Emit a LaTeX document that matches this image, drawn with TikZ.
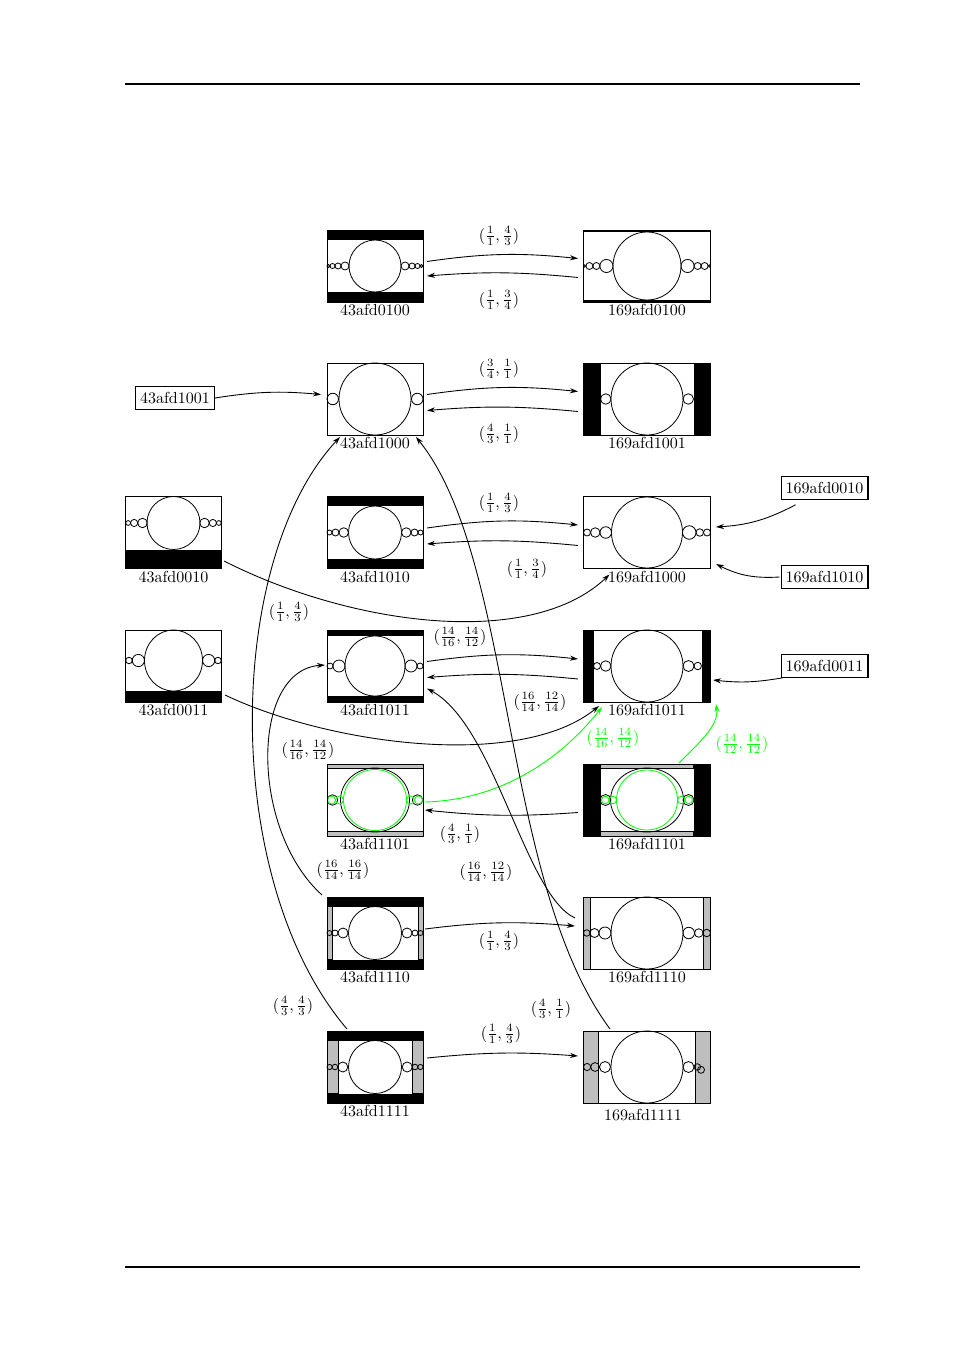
\documentclass[tikz,border=0pt]{standalone}
\usetikzlibrary{arrows.meta,calc}
\definecolor{grn}{RGB}{0,255,0}
\definecolor{bargray}{RGB}{190,190,190}
\tikzset{
 fr43/.style={draw, line width=0.6pt, minimum width=59.9pt, minimum height=44.93pt, inner sep=0pt},
 fr169/.style={draw, line width=0.6pt, minimum width=79.25pt, minimum height=44.93pt, inner sep=0pt},
 nm/.style={anchor=north, inner sep=1pt},
 tbox/.style={draw, line width=0.7pt, inner xsep=2.8pt, inner ysep=3.4pt},
 conn/.style={-{Stealth[length=5pt,width=3.2pt]}, line width=0.55pt},
 fl/.style={inner sep=0pt},
 thin0/.style={line width=0.5pt},
 gbar/.style={fill=bargray, draw=black, line width=0.45pt},
}
\begin{document}
\begin{tikzpicture}[x=0.624pt, y=-0.624pt]
\useasboundingbox (0,0) rectangle (954,1350);
% page rules
\draw[line width=1.1pt] (125,84) -- (860,84);
\draw[line width=1.1pt] (125,1267) -- (860,1267);

% ---------- 43afd0100
\begin{scope}[shift={(375,266)}]
 \fill (-48,-36) rectangle (48,-26);
 \fill (-48,26) rectangle (48,36);
 \draw[thin0] (0,0) circle[radius=26];
 \foreach \c/\r in {-46.5/1.5,-42.5/2.5,-37/3,-30/4}{
   \draw[thin0] (\c,0) circle[radius=\r];
   \draw[thin0] (-\c,0) circle[radius=\r];}
\end{scope}
\node[fr43] (b0100) at (375,266) {};
% ---------- 169afd0100
\begin{scope}[shift={(647,266)}]
 \fill (-63.5,-36) rectangle (63.5,-33.5);
 \fill (-63.5,33.5) rectangle (63.5,36);
 \draw[thin0] (0,0) circle[radius=34];
 \foreach \c/\r in {-62.3/1.2,-57.6/3.5,-50.6/3.5,-40.55/6.55}{
   \draw[thin0] (\c,0) circle[radius=\r];
   \draw[thin0] (-\c,0) circle[radius=\r];}
\end{scope}
\node[fr169] (w0100) at (647,266) {};
% ---------- 43afd1000
\begin{scope}[shift={(375,399)}]
 \draw[thin0] (0,0) circle[radius=36];
 \draw[thin0] (-42.25,0) circle[radius=5.75];
 \draw[thin0] (42.25,0) circle[radius=5.75];
\end{scope}
\node[fr43] (b1000) at (375,399) {};
% ---------- 169afd1001
\begin{scope}[shift={(647,399)}]
 \fill (-63.5,-36) rectangle (-46.5,36);
 \fill (46.5,-36) rectangle (63.5,36);
 \draw[thin0] (0,0) circle[radius=36];
 \draw[thin0] (-41.25,0) circle[radius=5.25];
 \draw[thin0] (41.25,0) circle[radius=5.25];
\end{scope}
\node[fr169] (w1001) at (647,399) {};
% ---------- 43afd0010
\begin{scope}[shift={(173.5,532.5)}]
 \fill (-47.75,17) rectangle (47.75,36);
 \draw[thin0] (0,-9.5) circle[radius=26.5];
 \foreach \c/\r in {-45.35/2.4,-39.35/3.6,-31/4.75}{
   \draw[thin0] (\c,-9.5) circle[radius=\r];
   \draw[thin0] (-\c,-9.5) circle[radius=\r];}
\end{scope}
\node[fr43, minimum width=59.6pt] (b0010) at (173.5,532.5) {};
% ---------- 43afd1010
\begin{scope}[shift={(375,532.5)}]
 \fill (-48,-36) rectangle (48,-26.5);
 \fill (-48,26.5) rectangle (48,36);
 \draw[thin0] (0,0) circle[radius=26.5];
 \foreach \c/\r in {-45.5/2.5,-39.5/3.5,-31.25/4.75}{
   \draw[thin0] (\c,0) circle[radius=\r];
   \draw[thin0] (-\c,0) circle[radius=\r];}
\end{scope}
\node[fr43] (b1010) at (375,532.5) {};
% ---------- 169afd1000
\begin{scope}[shift={(647,532.5)}]
 \draw[thin0] (0,0) circle[radius=35.5];
 \foreach \c/\r in {-60/3.5,-51.75/4.75,-41.25/5.75,42.25/6.75,52.75/3.75,60/3.5}{
   \draw[thin0] (\c,0) circle[radius=\r];}
\end{scope}
\node[fr169] (w1000) at (647,532.5) {};
% ---------- 43afd0011
\begin{scope}[shift={(173.5,666)}]
 \fill (-47.75,25) rectangle (47.75,36);
 \draw[thin0] (0,-5.5) ellipse[x radius=29, y radius=30.5];
 \foreach \c/\r in {-44.5/3.25,-35.15/6.1}{
   \draw[thin0] (\c,-5.5) circle[radius=\r];
   \draw[thin0] (-\c,-5.5) circle[radius=\r];}
\end{scope}
\node[fr43, minimum width=59.6pt] (b0011) at (173.5,666) {};
% ---------- 43afd1011
\begin{scope}[shift={(375,666)}]
 \fill (-48,-36) rectangle (48,-30);
 \fill (-48,30) rectangle (48,36);
 \draw[thin0] (0,0) circle[radius=30];
 \foreach \c/\r in {-45/3,-36/6}{
   \draw[thin0] (\c,0) circle[radius=\r];
   \draw[thin0] (-\c,0) circle[radius=\r];}
\end{scope}
\node[fr43] (b1011) at (375,666) {};
% ---------- 169afd1011
\begin{scope}[shift={(647,666)}]
 \fill (-63.5,-36) rectangle (-53.5,36);
 \fill (54.5,-36) rectangle (63.5,36);
 \draw[thin0] (0,0) circle[radius=36];
 \foreach \c/\r in {-50/3.5,-41.25/5.25,41.5/5.5,50.75/3.75}{
   \draw[thin0] (\c,0) circle[radius=\r];}
\end{scope}
\node[fr169] (w1011) at (647,666) {};
% ---------- 43afd1101
\begin{scope}[shift={(375,800)}]
 \draw[gbar] (-48,-36) rectangle (48,-31.5);
 \draw[gbar] (-48,31.5) rectangle (48,36);
 \draw[thin0] (0,0) ellipse[x radius=34.5, y radius=32];
 \draw[thin0] (-42.5,0) circle[radius=5.25];
 \draw[thin0] (42.5,0) circle[radius=5.25];
 \draw[thin0,grn] (0,0) ellipse[x radius=31.5, y radius=30.5];
 \foreach \c in {-43.5,-35.5,35.5,43.5}{\draw[thin0,grn] (\c,0) circle[radius=4];}
\end{scope}
\node[fr43] (b1101) at (375,800) {};
% ---------- 169afd1101
\begin{scope}[shift={(647,800)}]
 \fill (-63.5,-36) rectangle (-46.5,36);
 \fill (46.5,-36) rectangle (63.5,36);
 \draw[gbar] (-46.5,-36) rectangle (46.5,-31.5);
 \draw[gbar] (-46.5,31.5) rectangle (46.5,36);
 \draw[thin0] (0,0) ellipse[x radius=36.5, y radius=32];
 \draw[thin0] (-41.5,0) circle[radius=5.5];
 \draw[thin0] (41.5,0) circle[radius=5.5];
 \draw[thin0,grn] (0,0) ellipse[x radius=30.5, y radius=30];
 \foreach \c in {-41.75,-34.25,34.25,41.75}{\draw[thin0,grn] (\c,0) circle[radius=3.75];}
\end{scope}
\node[fr169] (w1101) at (647,800) {};
% ---------- 43afd1110
\begin{scope}[shift={(375,933)}]
 \fill (-48,-36) rectangle (48,-26.5);
 \fill (-48,26.5) rectangle (48,36);
 \draw[gbar] (-48,-26.5) rectangle (-43,26.5);
 \draw[gbar] (43,-26.5) rectangle (48,26.5);
 \draw[thin0] (0,0) circle[radius=26.5];
 \foreach \c/\r in {-45.5/2.5,-40/3,-32/5}{
   \draw[thin0] (\c,0) circle[radius=\r];
   \draw[thin0] (-\c,0) circle[radius=\r];}
\end{scope}
\node[fr43] (b1110) at (375,933) {};
% ---------- 169afd1110
\begin{scope}[shift={(647,933)}]
 \draw[gbar] (-63.5,-36) rectangle (-56.5,36);
 \draw[gbar] (56.5,-36) rectangle (63.5,36);
 \draw[thin0] (0,0) circle[radius=36];
 \foreach \c/\r in {-60.25/3.25,-52.5/4.5,-42/6,41.75/5.75,51.75/4.25,59.75/3.75}{
   \draw[thin0] (\c,0) circle[radius=\r];}
\end{scope}
\node[fr169] (w1110) at (647,933) {};
% ---------- 43afd1111
\begin{scope}[shift={(375,1067)}]
 \fill (-48,-36) rectangle (48,-26.5);
 \fill (-48,26.5) rectangle (48,36);
 \draw[gbar] (-48,-26.5) rectangle (-37,26.5);
 \draw[gbar] (37,-26.5) rectangle (48,26.5);
 \draw[thin0] (0,0) circle[radius=26.5];
 \foreach \c/\r in {-45.4/2.6,-40/2.8,-32.2/5}{
   \draw[thin0] (\c,0) circle[radius=\r];
   \draw[thin0] (-\c,0) circle[radius=\r];}
\end{scope}
\node[fr43] (b1111) at (375,1067) {};
% ---------- 169afd1111
\begin{scope}[shift={(647,1067)}]
 \draw[gbar] (-63.5,-36) rectangle (-48.5,36);
 \draw[gbar] (48.5,-36) rectangle (63.5,36);
 \draw[thin0] (0,0) circle[radius=36];
 \foreach \c/\r in {-59.9/3.6,-51.9/4.4,-42/5.5,41.5/5.5,50.3/3.3}{
   \draw[thin0] (\c,0) circle[radius=\r];}
 \draw[thin0] (54,2.8) circle[radius=3.5];
\end{scope}
\node[fr169] (w1111) at (647,1067) {};

% ---------- box names
\node[nm] (t0100b) at (b0100.south) {43afd0100};
\node[nm] (t0100w) at (w0100.south) {169afd0100};
\node[nm] (t1000b) at (b1000.south) {43afd1000};
\node[nm] (t1001w) at (w1001.south) {169afd1001};
\node[nm] (t0010b) at (b0010.south) {43afd0010};
\node[nm] (t1010b) at (b1010.south) {43afd1010};
\node[nm] (t1000w) at (w1000.south) {169afd1000};
\node[nm] (t0011b) at (b0011.south) {43afd0011};
\node[nm] (t1011b) at (b1011.south) {43afd1011};
\node[nm] (t1011w) at (w1011.south) {169afd1011};
\node[nm] (t1101b) at (b1101.south) {43afd1101};
\node[nm] (t1101w) at (w1101.south) {169afd1101};
\node[nm] (t1110b) at (b1110.south) {43afd1110};
\node[nm] (t1110w) at (w1110.south) {169afd1110};
\node[nm] (t1111b) at (b1111.south) {43afd1111};
\node[nm] (t1111w) at ($(w1111.south)+(-4,3.5)$) {169afd1111};

% ---------- text boxes
\node[tbox] (n1001) at (175,398) {43afd1001};
\node[tbox] (n0010) at (824.5,488) {169afd0010};
\node[tbox] (n1010) at (824.5,577) {169afd1010};
\node[tbox] (n0011) at (824.5,666) {169afd0011};

% ---------- connectors
% row 1
\draw[conn] ($(b0100.center)+(52,-4.5)$) to[bend left=7] ($(w0100.center)+(-69,-7.5)$);
\draw[conn] ($(w0100.center)+(-69,11.5)$) to[bend right=5] ($(b0100.center)+(52,10)$);
% row 2
\draw[conn] (n1001.east) to[bend left=7] ($(b1000.center)+(-54,-4.5)$);
\draw[conn] ($(b1000.center)+(52,-4.5)$) to[bend left=7] ($(w1001.center)+(-69,-7.5)$);
\draw[conn] ($(w1001.center)+(-69,12.5)$) to[bend right=5] ($(b1000.center)+(52,11.5)$);
% row 3
\draw[conn] ($(b1010.center)+(52,-4.5)$) to[bend left=7] ($(w1000.center)+(-69,-7.5)$);
\draw[conn] ($(w1000.center)+(-69,13)$) to[bend right=5] ($(b1010.center)+(52,11.5)$);
\draw[conn] ($(n0010.south west)+(15,5)$) to[bend left=12] ($(w1000.center)+(69,-5.5)$);
\draw[conn] ($(n1010.west)+(-1,0)$) to[bend left=15] ($(w1000.center)+(69,31.5)$);
\draw[conn] ($(b0010.center)+(50.5,28.5)$) .. controls (350,625) and (530,650) .. ($(w1000.center)+(-37.5,42)$);
% row 4
\draw[conn] ($(b1011.center)+(52,-4.5)$) to[bend left=7] ($(w1011.center)+(-69,-7)$);
\draw[conn] ($(w1011.center)+(-69,13)$) to[bend right=5] ($(b1011.center)+(52,11.5)$);
\draw[conn] ($(n0011.south west)+(2,0)$) to[bend left=8] ($(w1011.center)+(66,14)$);
\draw[conn] ($(b0011.center)+(51.5,29)$) .. controls (330,745) and (520,770) .. ($(w1011.center)+(-48,40)$);
% row 5
\draw[conn, grn] ($(b1101.center)+(50,2)$) .. controls (500,800) and (560,760) .. ($(w1011.center)+(-45,41)$);
\draw[conn, grn] ($(w1101.center)+(32,-37)$) .. controls (700,742) and (719,725) .. ($(w1011.center)+(69,38)$);
\draw[conn] ($(w1101.center)+(-69,12.5)$) to[bend left=5] ($(b1101.center)+(50,10)$);
% long curves
\draw[conn] ($(b1110.center)+(-53,-38)$) .. controls (250,830) and (250,670) .. ($(b1011.center)+(-50,-1)$);
\draw[conn] ($(b1110.center)+(50,-4)$) to[bend left=6] ($(w1110.center)+(-72,-7)$);
\draw[conn] ($(w1110.center)+(-72,-15)$) .. controls (525,895) and (495,725) .. ($(b1011.center)+(52,22.5)$);
\draw[conn] ($(w1111.center)+(-37,-38)$) .. controls (500,880) and (515,560) .. ($(b1000.center)+(41,38)$);
\draw[conn] ($(b1111.center)+(-28,-38)$) .. controls (220,880) and (225,560) .. ($(b1000.center)+(-35,38)$);
\draw[conn] ($(b1111.center)+(52,-9)$) to[bend left=5] ($(w1111.center)+(-69,-11)$);

% ---------- connector labels
\node[fl] (f01) at (499,236) {$(\frac{1}{1},\frac{4}{3})$};
\node[fl] (f02) at (499,300) {$(\frac{1}{1},\frac{3}{4})$};
\node[fl] (f03) at (499,369) {$(\frac{3}{4},\frac{1}{1})$};
\node[fl] (f04) at (499,434) {$(\frac{4}{3},\frac{1}{1})$};
\node[fl] (f05) at (499,503) {$(\frac{1}{1},\frac{4}{3})$};
\node[fl] (f06) at (527,569) {$(\frac{1}{1},\frac{3}{4})$};
\node[fl] (f07) at (289,612) {$(\frac{1}{1},\frac{4}{3})$};
\node[fl] (f08) at (460,637) {$(\frac{14}{16},\frac{14}{12})$};
\node[fl] (f09) at (540,702) {$(\frac{16}{14},\frac{12}{14})$};
\node[fl] (f10) at (308,750) {$(\frac{14}{16},\frac{14}{12})$};
\node[fl, text=grn] (f11) at (613,738) {$(\frac{14}{16},\frac{14}{12})$};
\node[fl, text=grn] (f12) at (742,744) {$(\frac{14}{12},\frac{14}{12})$};
\node[fl] (f13) at (460,834) {$(\frac{4}{3},\frac{1}{1})$};
\node[fl] (f14) at (343,870) {$(\frac{16}{14},\frac{16}{14})$};
\node[fl] (f15) at (486,872) {$(\frac{16}{14},\frac{12}{14})$};
\node[fl] (f16) at (499,941) {$(\frac{1}{1},\frac{4}{3})$};
\node[fl] (f17) at (293,1006) {$(\frac{4}{3},\frac{4}{3})$};
\node[fl] (f18) at (551,1009) {$(\frac{4}{3},\frac{1}{1})$};
\node[fl] (f19) at (501,1034) {$(\frac{1}{1},\frac{4}{3})$};
\end{tikzpicture}
\end{document}
